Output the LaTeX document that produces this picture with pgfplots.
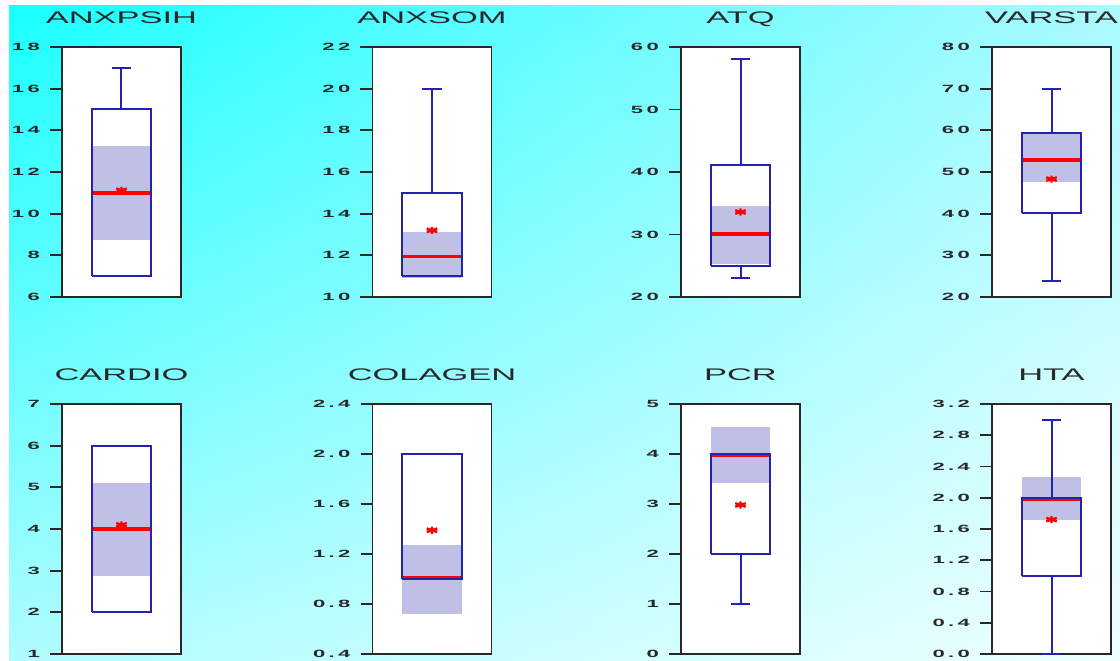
\documentclass[border=0pt]{standalone}
\usepackage{pgfplots}
\pgfplotsset{compat=1.18}
\usetikzlibrary{shadings}
\usepackage{fontspec}
\setmainfont{Liberation Sans}
\newfontfamily\tickfont[LetterSpace=15]{Liberation Sans}
\definecolor{boxblue}{RGB}{35,35,175}
\definecolor{cishade}{RGB}{192,192,230}
\definecolor{bgA}{RGB}{25,255,255}
\definecolor{bgB}{RGB}{170,250,255}
\definecolor{bgC}{RGB}{175,252,255}
\definecolor{bgD}{RGB}{240,255,255}
\definecolor{txt}{RGB}{40,40,40}
\pgfplotsset{
  panel/.style={
    scale only axis, width=119pt, height=250pt,
    xmin=0, xmax=1, xtick=\empty,
    ytick pos=left, tick align=outside, major tick length=12pt,
    axis line style={txt, line width=1.8pt},
    every tick/.style={txt, line width=1.8pt},
    axis background/.style={fill=white},
    title style={font=\fontsize{16.8}{18}\selectfont, text=txt, anchor=base, at={(0.5,1)}, yshift=17pt, inner sep=0pt},
    yticklabel style={font=\tickfont\bfseries\fontsize{10.5}{12}\selectfont, text=txt, anchor=east, inner sep=0pt, xshift=-10pt},
    yticklabel={\scalebox{2.1}[1]{\pgfmathprintnumber{\tick}}},
    /pgf/number format/assume math mode=true,
    clip=false,
  },
  decpanel/.style={/pgf/number format/.cd, fixed, fixed zerofill, precision=1},
  cibar/.style={fill=cishade, draw=none, no marks},
  boxst/.style={draw=boxblue, line width=2pt, no marks, line join=miter},
  medst/.style={red, line width=3.4pt, no marks},
  meanst/.style={red, only marks, mark=asterisk, mark size=4.2pt, mark options={line width=2.4pt, xscale=1.45, yscale=0.85}},
}
\begin{document}
\begin{tikzpicture}
\useasboundingbox (0,0) rectangle (1120pt,661pt);
\fill[white] (0,0) rectangle (1120pt,661pt);
\shade[upper left=bgA, upper right=bgB, lower left=bgC, lower right=bgD] (9pt,0pt) rectangle (1120pt,655pt);

% ---------------- Row 1 ----------------
\begin{axis}[panel, at={(62pt,364pt)}, anchor=south west, title={\scalebox{2.05}[1]{ANXPSIH}},
  ymin=6, ymax=18, ytick={6,8,10,12,14,16,18}]
\addplot[cibar] coordinates {(0.25,8.75) (0.75,8.75) (0.75,13.25) (0.25,13.25)};
\addplot[medst] coordinates {(0.25,11) (0.75,11)};
\addplot[boxst] coordinates {(0.25,7) (0.75,7) (0.75,15) (0.25,15) (0.25,7)};
\addplot[boxst] coordinates {(0.5,15) (0.5,17)};
\addplot[boxst] coordinates {(0.42,17) (0.58,17)};
\addplot[meanst] coordinates {(0.5,11.12)};
\end{axis}

\begin{axis}[panel, at={(372.5pt,364pt)}, anchor=south west, title={\scalebox{2.05}[1]{ANXSOM}},
  ymin=10, ymax=22, ytick={10,12,14,16,18,20,22}]
\addplot[cibar] coordinates {(0.25,10.9) (0.75,10.9) (0.75,13.1) (0.25,13.1)};
\addplot[medst] coordinates {(0.25,11.95) (0.75,11.95)};
\addplot[boxst] coordinates {(0.25,11) (0.75,11) (0.75,15) (0.25,15) (0.25,11)};
\addplot[boxst] coordinates {(0.5,15) (0.5,20)};
\addplot[boxst] coordinates {(0.42,20) (0.58,20)};
\addplot[meanst] coordinates {(0.5,13.2)};
\end{axis}

\begin{axis}[panel, at={(681pt,364pt)}, anchor=south west, title={\scalebox{2.05}[1]{ATQ}},
  ymin=20, ymax=60, ytick={20,30,40,50,60}]
\addplot[cibar] coordinates {(0.25,25.3) (0.75,25.3) (0.75,34.5) (0.25,34.5)};
\addplot[medst] coordinates {(0.25,30.1) (0.75,30.1)};
\addplot[boxst] coordinates {(0.25,24.9) (0.75,24.9) (0.75,41.1) (0.25,41.1) (0.25,24.9)};
\addplot[boxst] coordinates {(0.5,41.1) (0.5,58)};
\addplot[boxst] coordinates {(0.42,58) (0.58,58)};
\addplot[boxst] coordinates {(0.5,24.9) (0.5,23)};
\addplot[boxst] coordinates {(0.42,23) (0.58,23)};
\addplot[meanst] coordinates {(0.5,33.6)};
\end{axis}

\begin{axis}[panel, at={(992pt,364pt)}, anchor=south west, title={\scalebox{2.05}[1]{VARSTA}},
  ymin=20, ymax=80, ytick={20,30,40,50,60,70,80}]
\addplot[cibar] coordinates {(0.25,47.7) (0.75,47.7) (0.75,59.4) (0.25,59.4)};
\addplot[medst] coordinates {(0.25,52.9) (0.75,52.9)};
\addplot[boxst] coordinates {(0.25,40.2) (0.75,40.2) (0.75,59.4) (0.25,59.4) (0.25,40.2)};
\addplot[boxst] coordinates {(0.5,59.4) (0.5,70)};
\addplot[boxst] coordinates {(0.42,70) (0.58,70)};
\addplot[boxst] coordinates {(0.5,40.2) (0.5,23.8)};
\addplot[boxst] coordinates {(0.42,23.8) (0.58,23.8)};
\addplot[meanst] coordinates {(0.5,48.3)};
\end{axis}

% ---------------- Row 2 ----------------
\begin{axis}[panel, at={(62pt,7pt)}, anchor=south west, title={\scalebox{2.05}[1]{CARDIO}},
  ymin=1, ymax=7, ytick={1,2,3,4,5,6,7}]
\addplot[cibar] coordinates {(0.25,2.88) (0.75,2.88) (0.75,5.1) (0.25,5.1)};
\addplot[medst] coordinates {(0.25,4) (0.75,4)};
\addplot[boxst] coordinates {(0.25,2) (0.75,2) (0.75,6) (0.25,6) (0.25,2)};
\addplot[meanst] coordinates {(0.5,4.1)};
\end{axis}

\begin{axis}[panel, decpanel, at={(372.5pt,7pt)}, anchor=south west, title={\scalebox{2.05}[1]{COLAGEN}},
  ymin=0.4, ymax=2.4, ytick={0.4,0.8,1.2,1.6,2.0,2.4}]
\addplot[cibar] coordinates {(0.25,0.72) (0.75,0.72) (0.75,1.27) (0.25,1.27)};
\addplot[medst] coordinates {(0.25,1.01) (0.75,1.01)};
\addplot[boxst] coordinates {(0.25,1) (0.75,1) (0.75,2) (0.25,2) (0.25,1)};
\addplot[meanst] coordinates {(0.5,1.39)};
\end{axis}

\begin{axis}[panel, at={(681pt,7pt)}, anchor=south west, title={\scalebox{2.05}[1]{PCR}},
  ymin=0, ymax=5, ytick={0,1,2,3,4,5}]
\addplot[cibar] coordinates {(0.25,3.42) (0.75,3.42) (0.75,4.53) (0.25,4.53)};
\addplot[medst] coordinates {(0.25,3.97) (0.75,3.97)};
\addplot[boxst] coordinates {(0.25,2) (0.75,2) (0.75,4) (0.25,4) (0.25,2)};
\addplot[boxst] coordinates {(0.5,2) (0.5,1)};
\addplot[boxst] coordinates {(0.42,1) (0.58,1)};
\addplot[meanst] coordinates {(0.5,2.98)};
\end{axis}

\begin{axis}[panel, decpanel, at={(992pt,7pt)}, anchor=south west, title={\scalebox{2.05}[1]{HTA}},
  ymin=0, ymax=3.2, ytick={0,0.4,0.8,1.2,1.6,2.0,2.4,2.8,3.2}]
\addplot[cibar] coordinates {(0.25,1.71) (0.75,1.71) (0.75,2.27) (0.25,2.27)};
\addplot[medst] coordinates {(0.25,1.98) (0.75,1.98)};
\addplot[boxst] coordinates {(0.25,1) (0.75,1) (0.75,2) (0.25,2) (0.25,1)};
\addplot[boxst] coordinates {(0.5,2) (0.5,3)};
\addplot[boxst] coordinates {(0.42,3) (0.58,3)};
\addplot[boxst] coordinates {(0.5,1) (0.5,0)};
\addplot[boxst, line width=2.8pt] coordinates {(0.42,0) (0.58,0)};
\addplot[meanst] coordinates {(0.5,1.72)};
\end{axis}
\end{tikzpicture}
\end{document}
